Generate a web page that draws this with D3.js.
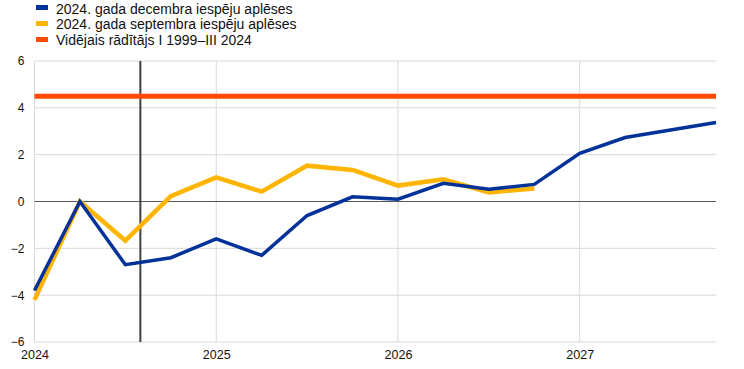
<!DOCTYPE html>
<html><head><meta charset="utf-8">
<script src="https://cdn.jsdelivr.net/npm/d3@7"></script>
<style>body{margin:0;background:#fff}svg{display:block;font-family:"Liberation Sans",Arial,sans-serif}</style>
</head><body><svg id="c" width="744" height="369"></svg>
<script>
const quarters = d3.range(16); // 2024Q1 .. 2027Q4
const yearTicks = [0, 4, 8, 12];
const yearLabels = ["2024", "2025", "2026", "2027"];
const yTicks = [-6, -4, -2, 0, 2, 4, 6];
const decValues = [-3.8, 0.0, -2.7, -2.4, -1.6, -2.3, -0.6, 0.2, 0.1, 0.78, 0.52, 0.73, 2.06, 2.73, 3.05, 3.37];
const sepValues = [-4.2, 0.0, -1.67, 0.23, 1.03, 0.42, 1.53, 1.35, 0.68, 0.95, 0.39, 0.56];
const avgValue = 4.5;
const cutoff = 2.33;
const seriesNames = ["2024. gada decembra iespēju aplēses", "2024. gada septembra iespēju aplēses", "Vidējais rādītājs I 1999–III 2024"];
const colors = ["#003299", "#FFB400", "#FF4B00"];

const svg = d3.select("#c");
const m = {l: 34.5, r: 716, t: 61, b: 342};
const x = d3.scaleLinear().domain([0, 15]).range([m.l, m.r]);
const y = d3.scaleLinear().domain([-6, 6]).range([m.b, m.t]);

// grid
svg.append("g").selectAll("line").data(yTicks.filter(d => d !== 0)).join("line")
  .attr("x1", m.l).attr("x2", m.r).attr("y1", d => y(d)).attr("y2", d => y(d))
  .attr("stroke", "#d9d9d9").attr("stroke-width", 1);
svg.append("g").selectAll("line").data(yearTicks).join("line")
  .attr("x1", d => x(d)).attr("x2", d => x(d)).attr("y1", m.t).attr("y2", m.b)
  .attr("stroke", "#d9d9d9").attr("stroke-width", 1);
svg.append("line").attr("x1", m.l).attr("x2", m.r).attr("y1", y(0)).attr("y2", y(0))
  .attr("stroke", "#595959").attr("stroke-width", 1);

// y axis labels
const ya = svg.append("g").attr("transform", `translate(${m.l},0)`)
  .call(d3.axisLeft(y).tickValues(yTicks).tickSize(0).tickPadding(10));
ya.select(".domain").remove();
ya.selectAll("text").attr("font-size", 12).attr("fill", "#111").attr("font-family", "Liberation Sans, Arial, sans-serif");

// x axis labels
const xa = svg.append("g").attr("transform", `translate(0,${m.b})`)
  .call(d3.axisBottom(x).tickValues(yearTicks).tickFormat((d, i) => yearLabels[i]).tickSize(0).tickPadding(8));
xa.select(".domain").remove();
xa.selectAll("text").attr("font-size", 12.5).attr("fill", "#111").attr("font-family", "Liberation Sans, Arial, sans-serif");

// cutoff line
svg.append("line").attr("x1", x(cutoff)).attr("x2", x(cutoff)).attr("y1", m.t).attr("y2", m.b)
  .attr("stroke", "#404040").attr("stroke-width", 2);

// avg line
svg.append("line").attr("x1", m.l).attr("x2", m.r).attr("y1", y(avgValue)).attr("y2", y(avgValue))
  .attr("stroke", colors[2]).attr("stroke-width", 5);

const line = d3.line().x((d, i) => x(i)).y(d => y(d));
svg.append("path").datum(sepValues).attr("d", line).attr("fill", "none")
  .attr("stroke", colors[1]).attr("stroke-width", 4.5).attr("stroke-linejoin", "miter");
svg.append("path").datum(decValues).attr("d", line).attr("fill", "none")
  .attr("stroke", colors[0]).attr("stroke-width", 3.5).attr("stroke-linejoin", "miter");

// legend
const lg = svg.append("g");
seriesNames.forEach((n, i) => {
  lg.append("rect").attr("x", 36).attr("y", 5 + i * 16).attr("width", 12).attr("height", 5).attr("fill", colors[i]);
  lg.append("text").attr("x", 56).attr("y", 13.5 + i * 15.8).attr("font-size", 14).attr("fill", "#111").text(n);
});
</script></body></html>
